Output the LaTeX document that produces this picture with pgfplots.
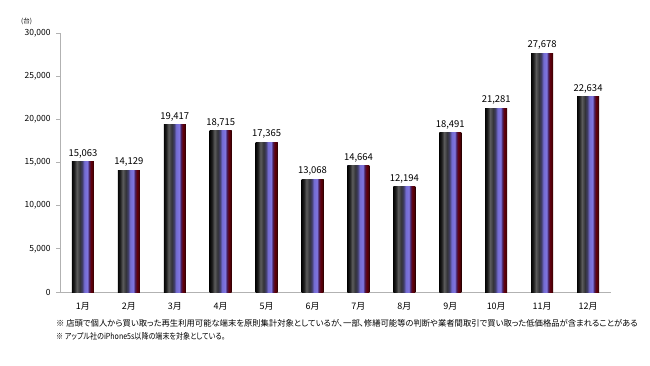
\documentclass[border=0pt]{standalone}
\usepackage{fontspec}
\setmainfont{Noto Sans CJK JP}[RawFeature=+palt]
\usepackage{graphicx}
\usepackage{pgfplots}
\pgfplotsset{compat=1.18}
\pgfdeclarehorizontalshading{barshade}{100bp}{%
rgb(0bp)=(0,0,0);
rgb(25bp)=(0.02,0.02,0.02);
rgb(30bp)=(0.12,0.12,0.12);
rgb(36bp)=(0.36,0.36,0.36);
rgb(43bp)=(0.20,0.20,0.22);
rgb(48bp)=(0.25,0.24,0.40);
rgb(53bp)=(0.45,0.42,0.82);
rgb(60bp)=(0.50,0.46,0.88);
rgb(64bp)=(0.28,0.12,0.35);
rgb(68bp)=(0.38,0.0,0.05);
rgb(72bp)=(0.30,0.0,0.02);
rgb(75bp)=(0.12,0.0,0.0);
rgb(100bp)=(0.12,0.0,0.0)}
\begin{document}
\begin{tikzpicture}[x=1bp,y=1bp]
\useasboundingbox (0,0) rectangle (650,365);
\begin{axis}[
  at={(60bp,73bp)}, anchor=south west,
  scale only axis, width=551bp, height=259bp,
  xmin=0.5, xmax=12.5, ymin=0, ymax=30000,
  ytick={0,5000,...,30000},
  xtick={1,...,12},
  xticklabels={1月,2月,3月,4月,5月,6月,7月,8月,9月,10月,11月,12月},
  axis x line*=bottom, axis y line*=left,
  axis line style={gray!60, line width=0.8pt},
  x tick style={draw=none},
  y tick style={gray!60, line width=0.8pt},
  tick align=outside, major tick length=4bp,
  scaled y ticks=false,
  /pgf/number format/assume math mode=true,
  /pgf/number format/1000 sep={,},
  yticklabel style={font=\fontsize{8.5}{9}\selectfont, xshift=-2bp},
  xticklabel style={font=\fontsize{9}{10}\selectfont, yshift=-3bp},
  ybar, bar width=22bp, bar shift=0pt,
  nodes near coords,
  nodes near coords style={text=black, font=\fontsize{9.5}{10}\selectfont, /pgf/number format/1000 sep={,}, /pgf/number format/assume math mode=true},
  every axis plot/.append style={draw=none, shading=barshade},
  clip=false,
]
\addplot coordinates {(1,15063)};
\addplot coordinates {(2,14129)};
\addplot coordinates {(3,19417)};
\addplot coordinates {(4,18715)};
\addplot coordinates {(5,17365)};
\addplot coordinates {(6,13068)};
\addplot coordinates {(7,14664)};
\addplot coordinates {(8,12194)};
\addplot coordinates {(9,18491)};
\addplot coordinates {(10,21281)};
\addplot coordinates {(11,27678)};
\addplot coordinates {(12,22634)};
\end{axis}
\node[anchor=west, font=\fontsize{6.5}{7}\selectfont, inner sep=0pt] at (21,344) {(台)};
\node[anchor=west, font=\fontsize{8.35}{9}\selectfont, inner sep=0pt] at (56,42) {※ 店頭で個人から買い取った再生利用可能な端末を原則集計対象としているが、一部、修繕可能等の判断や業者間取引で買い取った低価格品が含まれることがある};
\node[anchor=west, font=\fontsize{8.35}{9}\selectfont, inner sep=0pt] at (56,29) {\scalebox{0.85}[1]{※ アップル社のiPhone5s以降の端末を対象としている。}};
\end{tikzpicture}
\end{document}
